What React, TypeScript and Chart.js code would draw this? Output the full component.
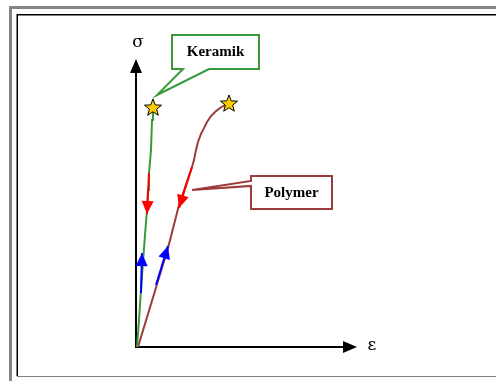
import React, { useEffect, useRef } from "react";
import { Chart, registerables } from "chart.js";

Chart.register(...registerables);

// strain (ε) and stress (σ) in arbitrary units 0..100
const keramikStrain = [0.45, 1.36, 2.26, 3.17, 4.07, 4.98, 5.43, 5.88, 6.79, 7.24, 7.69];
const keramikStress = [0, 9.4, 19.8, 29.5, 38.9, 47.6, 54.5, 60.4, 68.4, 78.8, 83.0];
const polymerStrain = [0.9, 14.48, 19.46, 25.34, 26.24, 27.15, 28.05, 29.41, 30.77, 32.13, 33.94, 35.75, 38.01, 40.27, 42.08];
const polymerStress = [0, 34.4, 49.3, 62.5, 64.9, 68.4, 71.2, 74.0, 76.0, 78.1, 80.2, 81.6, 83.0, 84.0, 84.4];

// unloading (red) and loading (blue) arrows: [startX, startY, tipX, tipY]
const unloadArrows = [
  [5.88, 60.4, 4.98, 46.2],
  [25.34, 62.5, 19.46, 48.3],
];
const loadArrows = [
  [2.26, 18.75, 2.71, 32.6],
  [9.05, 21.5, 14.48, 35.1],
];

// fracture points
const fractureStrain = [7.69, 42.08];
const fractureStress = [83.0, 84.4];

// callout labels and the points they refer to
const calloutLabels = ["Keramik", "Polymer"];
const calloutStrain = [9.5, 25.34];
const calloutStress = [87.5, 54.9];

const axisLabels = ["σ", "ε"];

const GREEN = "#3a9a3a";
const BROWN = "#9b3b3b";

function arrowHead(ctx: CanvasRenderingContext2D, fx: number, fy: number, tx: number, ty: number, color: string, len = 13, hw = 6) {
  const a = Math.atan2(ty - fy, tx - fx);
  const bx = tx - len * Math.cos(a);
  const by = ty - len * Math.sin(a);
  ctx.save();
  ctx.fillStyle = color;
  ctx.beginPath();
  ctx.moveTo(tx, ty);
  ctx.lineTo(bx + hw * Math.sin(a), by - hw * Math.cos(a));
  ctx.lineTo(bx - hw * Math.sin(a), by + hw * Math.cos(a));
  ctx.closePath();
  ctx.fill();
  ctx.restore();
}

function star(ctx: CanvasRenderingContext2D, cx: number, cy: number, ro = 9, ri = 3.8) {
  ctx.save();
  ctx.beginPath();
  for (let i = 0; i < 10; i++) {
    const r = i % 2 === 0 ? ro : ri;
    const ang = -Math.PI / 2 + (i * Math.PI) / 5;
    const x = cx + r * Math.cos(ang);
    const y = cy + r * Math.sin(ang);
    if (i === 0) ctx.moveTo(x, y);
    else ctx.lineTo(x, y);
  }
  ctx.closePath();
  ctx.fillStyle = "#ffcc00";
  ctx.fill();
  ctx.strokeStyle = "#000";
  ctx.lineWidth = 1;
  ctx.stroke();
  ctx.restore();
}

const drawPlugin = {
  id: "drawPlugin",
  beforeDraw(chart: any) {
    const ctx: CanvasRenderingContext2D = chart.ctx;
    const W = chart.width;
    const H = chart.height;
    ctx.save();
    ctx.fillStyle = "#fff";
    ctx.fillRect(0, 0, W, H);
    // outer grey frame
    ctx.fillStyle = "#858585";
    ctx.fillRect(9, 6, W - 9, 3);
    ctx.fillRect(9, 6, 3, H - 6);
    // inner frame
    ctx.fillStyle = "#000";
    ctx.fillRect(17, 14, W - 17, 1.5);
    ctx.fillRect(16.5, 14, 1.5, 362);
    ctx.fillStyle = "#808080";
    ctx.fillRect(17, 376, W - 17, 1);
    ctx.restore();
  },
  beforeDatasetsDraw(chart: any) {
    const ctx: CanvasRenderingContext2D = chart.ctx;
    const xs = chart.scales.x;
    const ys = chart.scales.y;
    const ox = xs.getPixelForValue(0);
    const oy = ys.getPixelForValue(0);
    const top = chart.chartArea.top;
    const right = chart.chartArea.right;
    ctx.save();
    ctx.strokeStyle = "#000";
    ctx.lineWidth = 2;
    ctx.beginPath();
    ctx.moveTo(ox, oy + 1);
    ctx.lineTo(ox, top + 12);
    ctx.moveTo(ox - 1, oy);
    ctx.lineTo(right - 12, oy);
    ctx.stroke();
    ctx.restore();
    arrowHead(ctx, ox, oy, ox, top, "#000", 14, 6);
    arrowHead(ctx, ox, oy, right, oy, "#000", 14, 6);
    ctx.save();
    ctx.fillStyle = "#000";
    ctx.font = "17px 'DejaVu Serif', serif";
    ctx.textAlign = "center";
    ctx.textBaseline = "middle";
    ctx.fillText(axisLabels[0], ox + 2, top - 16);
    ctx.fillText(axisLabels[1], right + 15, oy - 1);
    ctx.restore();
  },
  afterDatasetsDraw(chart: any) {
    const ctx: CanvasRenderingContext2D = chart.ctx;
    const xs = chart.scales.x;
    const ys = chart.scales.y;
    unloadArrows.forEach((a) => {
      arrowHead(ctx, xs.getPixelForValue(a[0]), ys.getPixelForValue(a[1]), xs.getPixelForValue(a[2]), ys.getPixelForValue(a[3]), "#ff0000");
    });
    loadArrows.forEach((a) => {
      arrowHead(ctx, xs.getPixelForValue(a[0]), ys.getPixelForValue(a[1]), xs.getPixelForValue(a[2]), ys.getPixelForValue(a[3]), "#0000ff");
    });
    fractureStrain.forEach((v, i) => {
      star(ctx, xs.getPixelForValue(v), ys.getPixelForValue(fractureStress[i]));
    });

    // Keramik callout (box above, pointer down-left)
    {
      const tx = xs.getPixelForValue(calloutStrain[0]);
      const ty = ys.getPixelForValue(calloutStress[0]);
      const L = tx + 15, R = tx + 102, T = ty - 60, B = ty - 26;
      ctx.save();
      ctx.beginPath();
      ctx.moveTo(L, T);
      ctx.lineTo(R, T);
      ctx.lineTo(R, B);
      ctx.lineTo(tx + 52, B);
      ctx.lineTo(tx, ty);
      ctx.lineTo(tx + 26, B);
      ctx.lineTo(L, B);
      ctx.closePath();
      ctx.fillStyle = "#fff";
      ctx.fill();
      ctx.strokeStyle = GREEN;
      ctx.lineWidth = 2;
      ctx.stroke();
      ctx.fillStyle = "#000";
      ctx.font = "bold 15px 'Liberation Serif', serif";
      ctx.textAlign = "center";
      ctx.textBaseline = "middle";
      ctx.fillText(calloutLabels[0], (L + R) / 2, (T + B) / 2);
      ctx.restore();
    }
    // Polymer callout (box right, pointer left)
    {
      const tx = xs.getPixelForValue(calloutStrain[1]);
      const ty = ys.getPixelForValue(calloutStress[1]);
      const L = tx + 59, R = tx + 140, T = ty - 13, B = ty + 20;
      ctx.save();
      ctx.beginPath();
      ctx.moveTo(L, T);
      ctx.lineTo(R, T);
      ctx.lineTo(R, B);
      ctx.lineTo(L, B);
      ctx.lineTo(L, ty - 3);
      ctx.lineTo(tx, ty + 1);
      ctx.lineTo(L, ty - 8);
      ctx.closePath();
      ctx.fillStyle = "#fff";
      ctx.fill();
      ctx.strokeStyle = BROWN;
      ctx.lineWidth = 2;
      ctx.stroke();
      ctx.fillStyle = "#000";
      ctx.font = "bold 15px 'Liberation Serif', serif";
      ctx.textAlign = "center";
      ctx.textBaseline = "middle";
      ctx.fillText(calloutLabels[1], (L + R) / 2, (T + B) / 2 + 1);
      ctx.restore();
    }
  },
};

export default function App() {
  const ref = useRef<HTMLCanvasElement>(null);
  useEffect(() => {
    document.body.style.margin = "0";
    const toPts = (xs: number[], ys: number[]) => xs.map((x, i) => ({ x, y: ys[i] }));
    const segDs = (a: number[], color: string) => ({
      data: [{ x: a[0], y: a[1] }, { x: a[2], y: a[3] }],
      borderColor: color,
      borderWidth: 2,
      showLine: true,
      pointRadius: 0,
      clip: false as any,
    });
    const chart = new Chart(ref.current!, {
      type: "scatter",
      data: {
        datasets: [
          ...unloadArrows.map((a) => segDs(a, "#ff0000")),
          ...loadArrows.map((a) => segDs(a, "#0000ff")),
          {
            label: "Keramik",
            data: toPts(keramikStrain, keramikStress),
            borderColor: GREEN,
            borderWidth: 2,
            showLine: true,
            pointRadius: 0,
            tension: 0,
            clip: false as any,
          },
          {
            label: "Polymer",
            data: toPts(polymerStrain, polymerStress),
            borderColor: BROWN,
            borderWidth: 2,
            showLine: true,
            pointRadius: 0,
            tension: 0,
            clip: false as any,
          },
        ],
      },
      options: {
        responsive: false,
        animation: false,
        layout: { padding: { left: 136, right: 139, top: 59, bottom: 34 } },
        scales: {
          x: { type: "linear", min: 0, max: 100, display: false },
          y: { type: "linear", min: 0, max: 100, display: false },
        },
        plugins: { legend: { display: false }, tooltip: { enabled: false } },
        events: [],
      },
      plugins: [drawPlugin],
    });
    return () => chart.destroy();
  }, []);
  return (
    <div style={{ width: 496, height: 381 }}>
      <canvas ref={ref} width={496} height={381} style={{ display: "block" }} />
    </div>
  );
}
